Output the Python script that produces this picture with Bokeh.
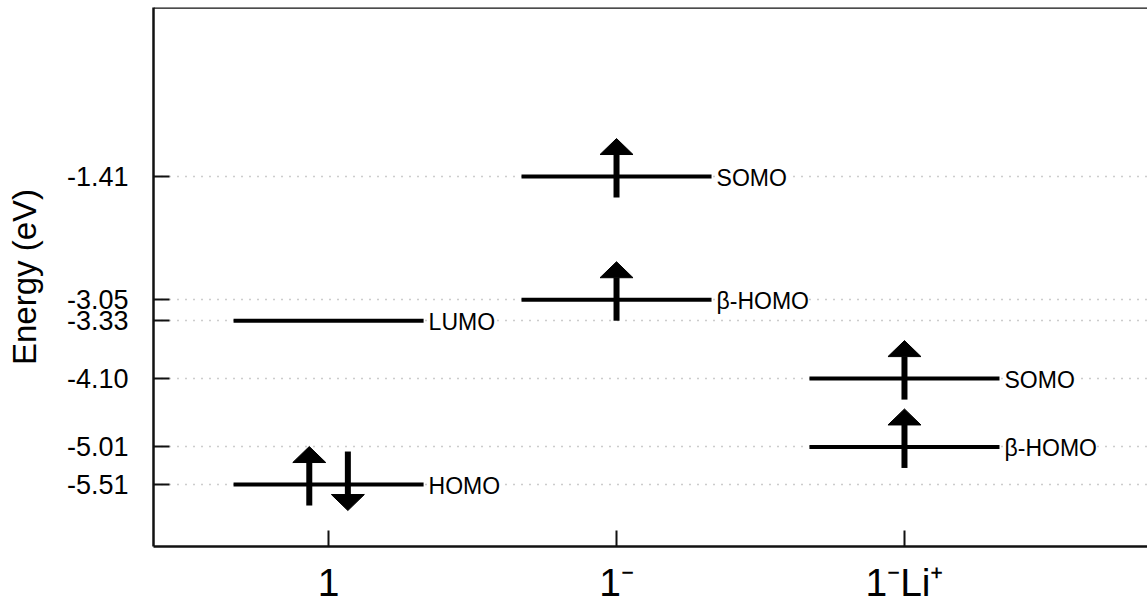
from bokeh.plotting import figure
from bokeh.models import ColumnDataSource, FixedTicker, Range1d, Span
from bokeh.core.properties import value
from bokeh.embed import file_html
from bokeh.resources import INLINE

# ---- data ----
systems = ["1", "1\u207b", "1\u207bLi\u207a"]
system_pos = [0, 1, 2]

level_sys = [0, 0, 1, 1, 2, 2]
level_energy = [-3.33, -5.51, -1.41, -3.05, -4.10, -5.01]
level_label = ["LUMO", "HOMO", "SOMO", "\u03b2-HOMO", "SOMO", "\u03b2-HOMO"]

# electrons: system, energy level, spin (+1 up, -1 down), horizontal shift
elec_sys = [0, 0, 1, 1, 2, 2]
elec_energy = [-5.51, -5.51, -1.41, -3.05, -4.10, -5.01]
elec_spin = [1, -1, 1, 1, 1, 1]
elec_shift = [-0.067, 0.067, 0.0, 0.0, 0.0, 0.0]

y_ticks = [-1.41, -3.05, -3.33, -4.10, -5.01, -5.51]

# ---- layout ----
W, H = 1147, 606
LEFT, TOP, BOTTOM, RIGHT = 153, 7, 60, 0
x0, x1 = -0.608, 2.844
y0, y1 = -6.335, 0.84
px_x = (W - LEFT - RIGHT) / (x1 - x0)
px_y = (H - TOP - BOTTOM) / (y1 - y0)

FONT = "Liberation Sans"

p = figure(width=W, height=H, output_backend="svg", toolbar_location=None,
           x_range=Range1d(x0, x1), y_range=Range1d(y0, y1),
           min_border_left=LEFT, min_border_right=RIGHT,
           min_border_top=TOP, min_border_bottom=BOTTOM,
           tools="")
p.outline_line_color = None
p.background_fill_color = "white"
p.border_fill_color = "white"

# grid: dotted lines at tick values
p.xgrid.visible = False
p.ygrid.ticker = FixedTicker(ticks=y_ticks)
p.ygrid.grid_line_color = "#9a9a9a"
p.ygrid.grid_line_dash = "1 7"
p.ygrid.grid_line_width = 1.3

# y axis
p.yaxis.ticker = FixedTicker(ticks=y_ticks)
p.yaxis.major_label_overrides = {t: f"{t:.2f}" for t in y_ticks}
p.yaxis.major_tick_in = 16
p.yaxis.major_tick_out = 0
p.yaxis.minor_tick_line_color = None
p.yaxis.axis_line_width = 2.5
p.yaxis.major_tick_line_width = 2
p.yaxis.axis_line_color = "#111111"
p.yaxis.major_tick_line_color = "#111111"
p.yaxis.major_label_text_font = FONT
p.yaxis.major_label_text_font_size = "27px"
p.yaxis.major_label_text_color = "black"
p.yaxis.major_label_standoff = 25
p.yaxis.axis_label = "Energy (eV)"
p.yaxis.axis_label_text_font = FONT
p.yaxis.axis_label_text_font_size = "33px"
p.yaxis.axis_label_text_font_style = "normal"
p.yaxis.axis_label_text_color = "black"
p.yaxis.axis_label_standoff = 21

# x axis
p.xaxis.ticker = FixedTicker(ticks=system_pos)
p.xaxis.major_label_overrides = {i: s for i, s in zip(system_pos, systems)}
p.xaxis.major_tick_in = 16
p.xaxis.major_tick_out = 0
p.xaxis.minor_tick_line_color = None
p.xaxis.axis_line_width = 2.5
p.xaxis.major_tick_line_width = 2
p.xaxis.axis_line_color = "#111111"
p.xaxis.major_tick_line_color = "#111111"
p.xaxis.major_label_text_font = FONT
p.xaxis.major_label_text_font_size = "39px"
p.xaxis.major_label_text_color = "black"
p.xaxis.major_label_standoff = 14

# top border
p.add_layout(Span(location=y1, dimension="width", line_color="#111111", line_width=2.5))

# ---- energy levels ----
half = 0.33
lv = ColumnDataSource(dict(
    x0=[s - half for s in level_sys],
    x1=[s + half for s in level_sys],
    y=level_energy,
    label=level_label,
))
p.segment(x0="x0", y0="y", x1="x1", y1="y", source=lv,
          line_color="black", line_width=4, line_cap="butt")
p.text(x="x1", y="y", text="label", source=lv,
       text_font=value(FONT), text_font_size="23px", text_color="black",
       text_align="left", text_baseline="middle", x_offset=5, y_offset=1,
       background_fill_color="white")

# ---- electron arrows ----
tail_px, tip_px = 21, 38     # up-arrow: tail below level, tip above (pixels)
head_len_px, head_w_px = 16, 33
shaft_x, shaft_y0, shaft_y1 = [], [], []
head_xs, head_ys = [], []
for s, e, spin, dx in zip(elec_sys, elec_energy, elec_spin, elec_shift):
    cx = s + dx
    if spin > 0:
        tail = e - tail_px / px_y
        tip = e + tip_px / px_y
    else:
        tail = e + 33 / px_y
        tip = e - 26 / px_y
    base = tip - spin * head_len_px / px_y
    shaft_x.append(cx)
    shaft_y0.append(tail)
    shaft_y1.append(base)
    hw = head_w_px / 2 / px_x
    head_xs.append([cx - hw, cx + hw, cx])
    head_ys.append([base, base, tip])

p.segment(x0=shaft_x, y0=shaft_y0, x1=shaft_x, y1=shaft_y1,
          line_color="black", line_width=6, line_cap="butt")
p.patches(xs=head_xs, ys=head_ys, fill_color="black", line_color="black", line_width=1)

open("out.html", "w").write(file_html(p, INLINE))
